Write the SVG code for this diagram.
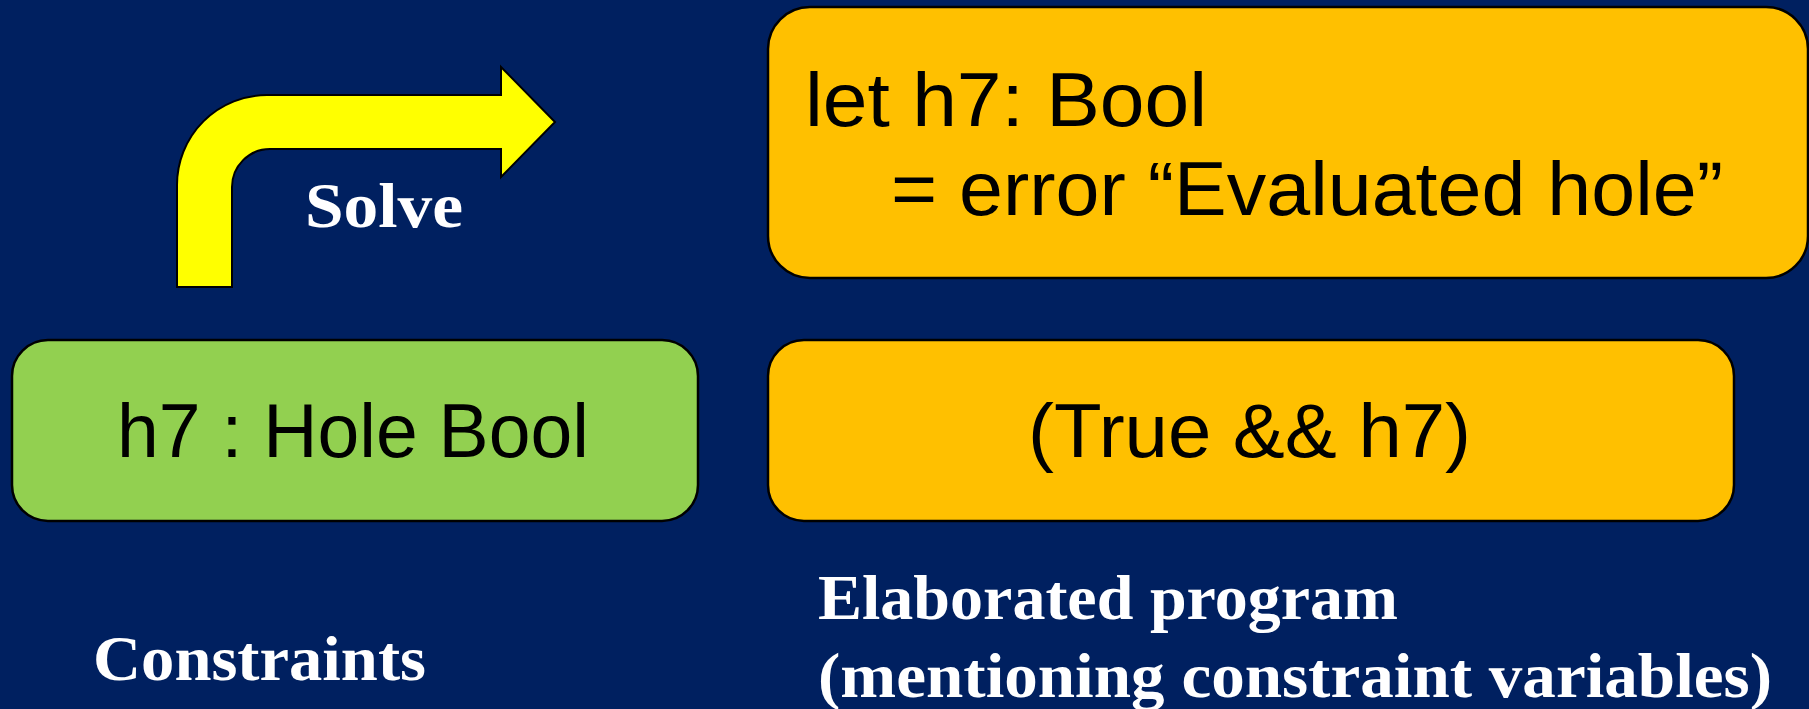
<svg xmlns="http://www.w3.org/2000/svg" width="1809" height="709" viewBox="0 0 1809 709">
  <style>
    .box { stroke: #000; stroke-width: 2.5; }
    .orange { fill: #FFC000; }
    .green { fill: #92D050; }
    .code { font-family: "Comic Sans MS", "Liberation Sans", sans-serif; font-size: 76px; fill: #000; }
    .label { font-family: "Book Antiqua", "Palatino Linotype", "Liberation Serif", serif; font-weight: bold; font-size: 64px; fill: #fff; }
  </style>

  <!-- background -->
  <rect x="0" y="0" width="1809" height="709" fill="#002060"/>

  <!-- bent "Solve" arrow -->
  <g id="connectors">
    <path d="M177,287 L177,185 A90,90 0 0 1 267,95 L501,95 L501,67 L555,122 L501,177 L501,149 L270,149 A38,38 0 0 0 232,187 L232,287 Z" fill="#FFFF00" stroke="#000" stroke-width="2"/>
    <text class="label" x="305" y="227" font-size="66" textLength="158" lengthAdjust="spacingAndGlyphs">Solve</text>
  </g>

  <!-- solved binding -->
  <g id="solution">
    <rect class="box orange" x="768" y="7" width="1040" height="271" rx="42" ry="42"/>
    <text class="code" x="805" y="126" textLength="402" lengthAdjust="spacingAndGlyphs">let h7: Bool</text>
    <text class="code" x="891" y="215" textLength="832" lengthAdjust="spacingAndGlyphs">= error “Evaluated hole”</text>
  </g>

  <!-- constraint -->
  <g id="constraint">
    <rect class="box green" x="12" y="340" width="686" height="181" rx="36" ry="36"/>
    <text class="code" x="117" y="457" textLength="472" lengthAdjust="spacingAndGlyphs">h7 : Hole Bool</text>
  </g>

  <!-- elaborated expression -->
  <g id="program">
    <rect class="box orange" x="768" y="340" width="966" height="181" rx="36" ry="36"/>
    <text class="code" x="1028" y="457" textLength="443" lengthAdjust="spacingAndGlyphs">(True &amp;&amp; h7)</text>
  </g>

  <!-- captions -->
  <g id="captions">
    <text class="label" x="93" y="680" textLength="333" lengthAdjust="spacingAndGlyphs">Constraints</text>
    <text class="label" x="818" y="619" textLength="580" lengthAdjust="spacingAndGlyphs">Elaborated program</text>
    <text class="label" x="818" y="697" textLength="954" lengthAdjust="spacingAndGlyphs">(mentioning constraint variables)</text>
  </g>
</svg>
